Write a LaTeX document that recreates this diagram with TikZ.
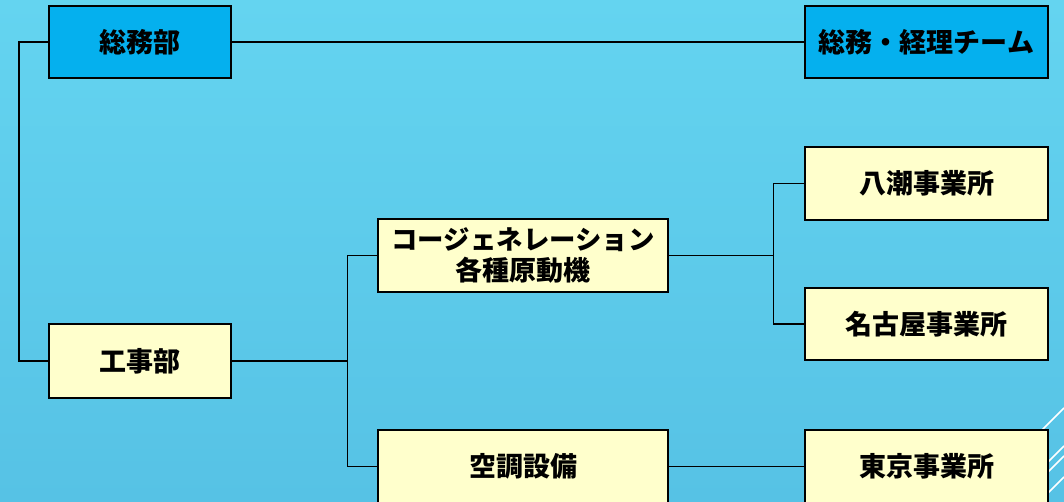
\documentclass[tikz,border=0pt]{standalone}
\usepackage{fontspec}
\setmainfont{Noto Sans CJK JP}
\usetikzlibrary{positioning}

\definecolor{bgtop}{HTML}{64D4F0}
\definecolor{bgbottom}{HTML}{56C2E5}
\definecolor{deptblue}{HTML}{05B0EE}
\definecolor{unityellow}{HTML}{FFFFCC}

\tikzset{
  orgbox/.style={draw=black, line width=2.4pt, inner sep=0pt,
    font=\bfseries\fontsize{27}{31}\selectfont, align=center},
  bluebox/.style={orgbox, fill=deptblue},
  yellowbox/.style={orgbox, fill=unityellow},
  link/.style={draw=black, line width=1.4pt}
}

\begin{document}
\begin{tikzpicture}[x=1pt,y=-1pt]
      \useasboundingbox (0,0) rectangle (1064,502);
      \clip (0,0) rectangle (1064,502);
      \shade[top color=bgtop, bottom color=bgbottom] (0,0) rectangle (1064,502);

      % Corner stripes
      \foreach \sy in {408, 446, 456, 477}
        \draw[white, line width=1.6pt] (1064,\sy) -- ++(-30,30);

      % Head office
      \node[bluebox, minimum width=182pt, minimum height=72pt] (somu) at (140,42) {総務部};
      \node[bluebox, minimum width=243pt, minimum height=72pt] (team) at (926.5,42) {総務・経理チーム};

      % Works department
      \node[yellowbox, minimum width=182pt, minimum height=74pt] (koji) at (140,361) {工事部};
      \node[yellowbox, minimum width=290pt, minimum height=73pt] (cogen) at (523,255.5)
        {{\fontsize{26.4}{31}\selectfont コージェネレーション}\\各種原動機};
      \node[yellowbox, minimum width=290pt, minimum height=73pt] (kucho) at (523,466.5) {空調設備};

      % Offices
      \node[yellowbox, minimum width=243pt, minimum height=73pt] (yashio) at (926.5,183.5) {八潮事業所};
      \node[yellowbox, minimum width=243pt, minimum height=72pt] (nagoya) at (926.5,324) {名古屋事業所};
      \node[yellowbox, minimum width=243pt, minimum height=73pt] (tokyo) at (926.5,466.5) {東京事業所};

      % Connectors
      \draw[link] (somu.west) -- ++(-29,0) |- (koji.west);
      \draw[link] (somu) -- (team);

      \draw[link] (koji.east) -- ++(115,0) coordinate (jkoji);
      \draw[link] (cogen.west) -| (jkoji) |- (kucho.west);

      \draw[link] (cogen.east) -- ++(104,0) coordinate (jcogen);
      \draw[link] (yashio.west) -| (jcogen) |- (nagoya.west);

      \draw[link] (kucho) -- (tokyo);
\end{tikzpicture}
\end{document}
